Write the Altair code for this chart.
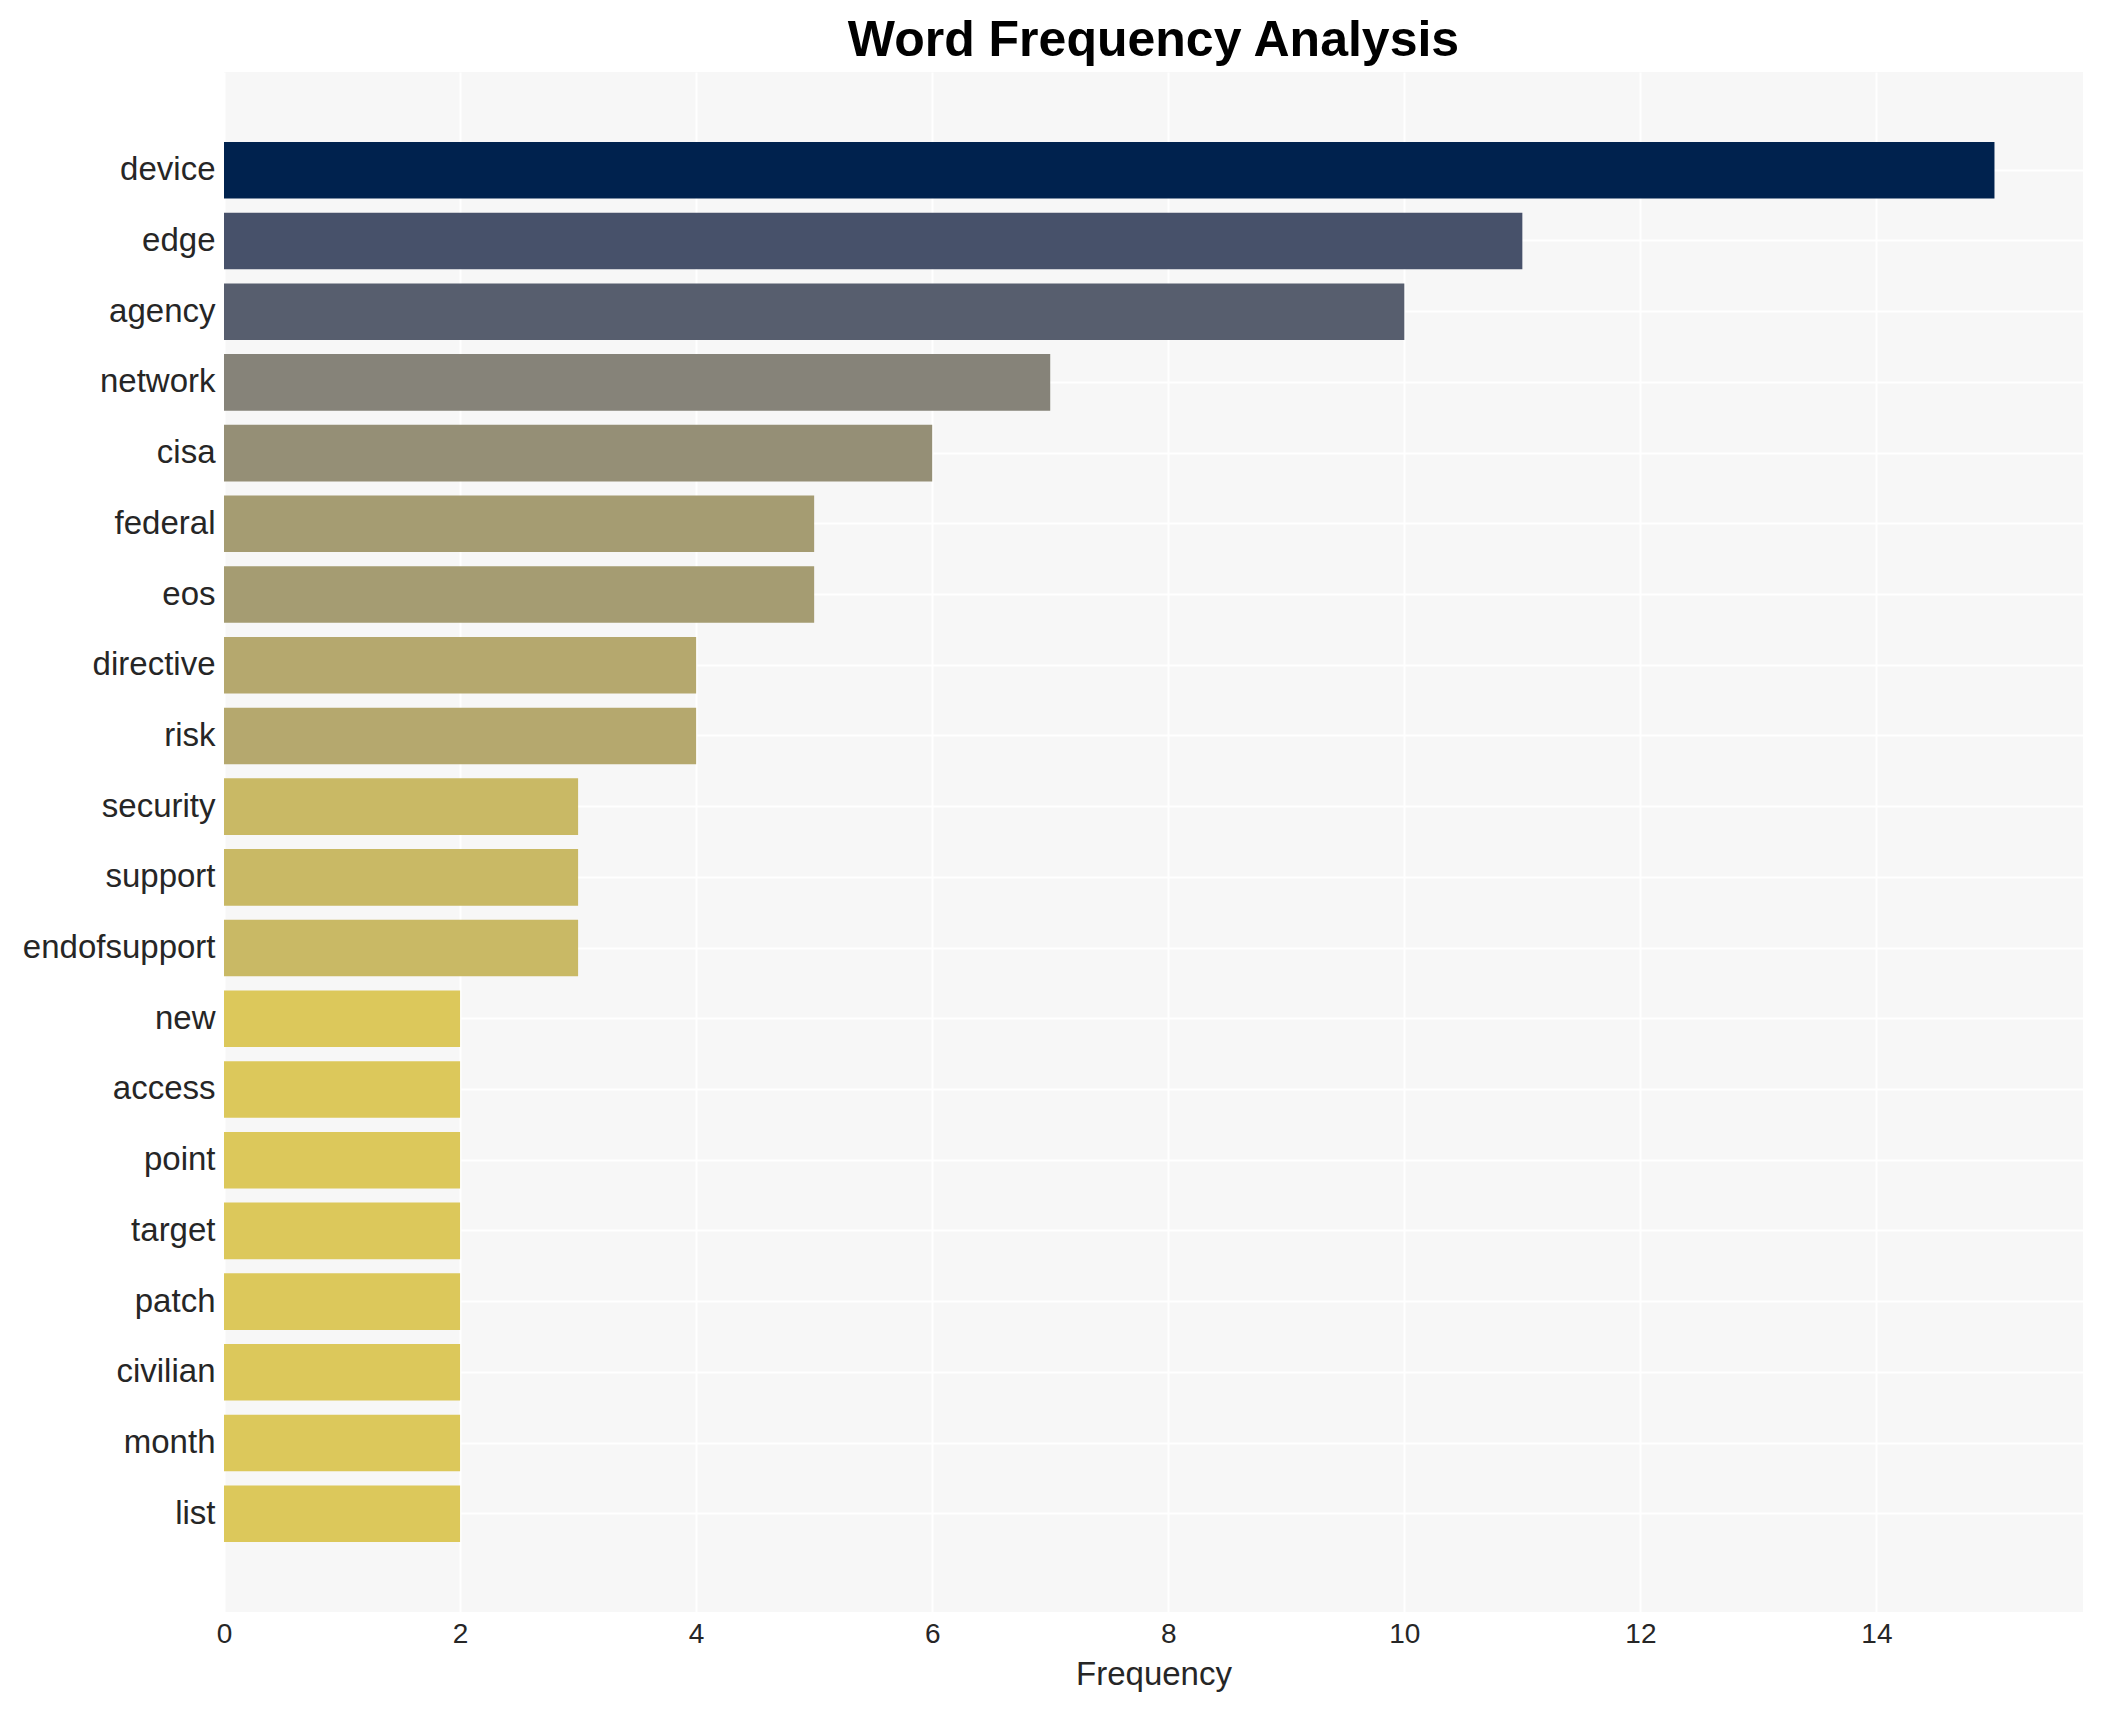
import altair as alt
import pandas as pd

words = ["device", "edge", "agency", "network", "cisa", "federal", "eos",
         "directive", "risk", "security", "support", "endofsupport", "new",
         "access", "point", "target", "patch", "civilian", "month", "list"]
freqs = [15, 11, 10, 7, 6, 5, 5, 4, 4, 3, 3, 3, 2, 2, 2, 2, 2, 2, 2, 2]

freq_levels = [15, 11, 10, 7, 6, 5, 4, 3, 2]
freq_colors = ["#00224e", "#47516a", "#575e6e", "#868379", "#958f76",
               "#a59c72", "#b5a86e", "#c9b965", "#dcc85b"]

x_ticks = [0, 2, 4, 6, 8, 10, 12, 14]

df = pd.DataFrame({"word": words, "Frequency": freqs})

FONT = "Liberation Sans"

chart = alt.Chart(df).mark_bar().encode(
    y=alt.Y("word:N", sort=words,
            scale=alt.Scale(paddingInner=0.2, paddingOuter=0.99),
            axis=alt.Axis(title=None, labelFontSize=33, labelColor="#262626",
                          labelPadding=9, ticks=False, domain=False,
                          grid=True, gridColor="#ffffff", gridWidth=2,
                          labelFont=FONT, labelLimit=0)),
    x=alt.X("Frequency:Q",
            scale=alt.Scale(domain=[0, 15.75], nice=False, zero=True),
            axis=alt.Axis(title="Frequency", values=x_ticks, labelFontSize=28,
                          labelColor="#262626", labelPadding=8, ticks=False,
                          domain=False, grid=True, gridColor="#ffffff",
                          gridWidth=2, titleFontSize=33, titleColor="#262626",
                          titleFontWeight="normal", titlePadding=10,
                          labelFont=FONT, titleFont=FONT, labelFlush=False)),
    color=alt.Color("Frequency:O",
                    scale=alt.Scale(domain=freq_levels, range=freq_colors),
                    legend=None),
).properties(
    width=1859,
    height=1540,
    title=alt.TitleParams("Word Frequency Analysis", fontSize=50,
                          fontWeight="bold", font=FONT, color="#000000",
                          anchor="middle", offset=6),
    autosize=alt.AutoSizeParams(type="none"),
    padding={"left": 216, "top": 64, "right": 10, "bottom": 80},
    background="#ffffff",
).configure_view(
    fill="#f7f7f7", strokeWidth=0
)

chart.save("out.html", embed_options={"renderer": "svg", "actions": False})
